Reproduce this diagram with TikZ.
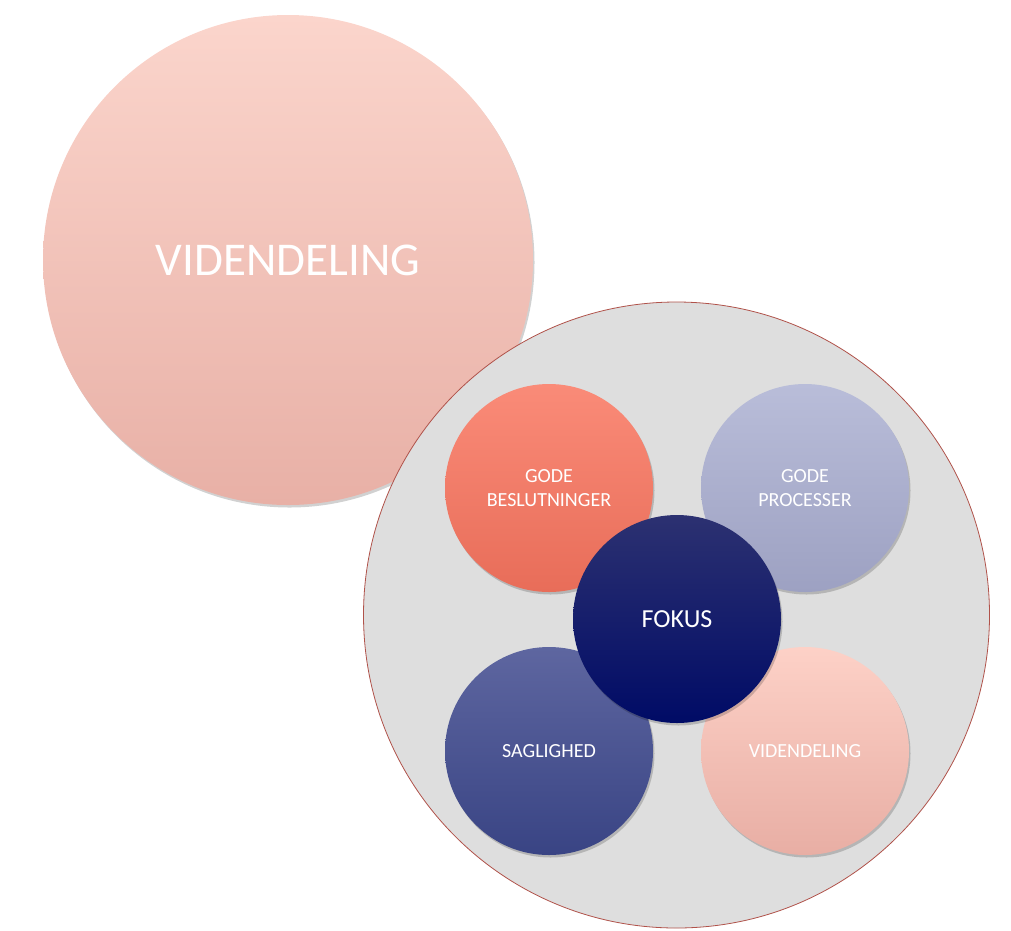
\documentclass[tikz,border=0pt]{standalone}
\usepackage{fontspec}
\setmainfont{Carlito}
\usetikzlibrary{shadows}
\definecolor{bigtop}{HTML}{FBD5CC}
\definecolor{bigbot}{HTML}{E8B0A6}
\definecolor{besltop}{HTML}{FA8B78}
\definecolor{beslbot}{HTML}{E86D59}
\definecolor{proctop}{HTML}{B9BDD9}
\definecolor{procbot}{HTML}{9DA1C2}
\definecolor{sagtop}{HTML}{5E66A0}
\definecolor{sagbot}{HTML}{394484}
\definecolor{vidtop}{HTML}{FDD1C7}
\definecolor{vidbot}{HTML}{E8AEA4}
\definecolor{foktop}{HTML}{2C3171}
\definecolor{fokbot}{HTML}{000B66}
\definecolor{grayfill}{HTML}{DEDEDE}
\definecolor{rimred}{HTML}{B0524A}
\tikzset{
  ball/.style={circle, minimum size=#1, inner sep=0pt, align=center, text=white,
    drop shadow={shadow xshift=1.5pt, shadow yshift=-2.5pt, opacity=0.18, fill=black}},
  small/.style={ball=208pt, font=\fontsize{20}{24}\selectfont},
}
\begin{document}
\begin{tikzpicture}[x=1pt,y=-1pt]
\useasboundingbox (0,0) rectangle (1011,930);
\node[ball=490pt, top color=bigtop, bottom color=bigbot, font=\fontsize{47}{56}\selectfont] (big) at (288,260) {VIDENDELING};
\node[circle, minimum size=626pt, inner sep=0pt, fill=grayfill, draw=rimred, line width=0.8pt] (gray) at (676.5,615) {};
\node[small, top color=besltop, bottom color=beslbot] (besl) at (549,488) {GODE\\BESLUTNINGER};
\node[small, top color=proctop, bottom color=procbot] (proc) at (805,488) {GODE\\PROCESSER};
\node[small, top color=sagtop, bottom color=sagbot] (sag) at (549,751) {SAGLIGHED};
\node[small, top color=vidtop, bottom color=vidbot] (vid) at (805,751) {VIDENDELING};
\node[ball=208pt, top color=foktop, bottom color=fokbot, font=\fontsize{26}{30}\selectfont] (fok) at (677,619) {FOKUS};
\end{tikzpicture}
\end{document}
